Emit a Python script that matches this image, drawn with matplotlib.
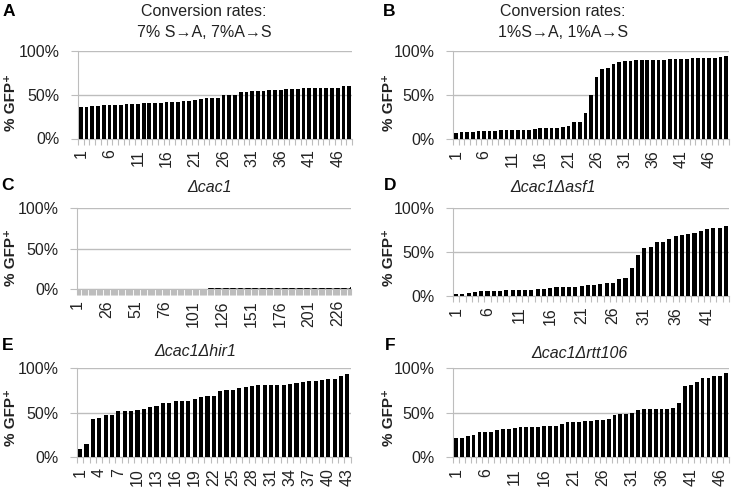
import numpy as np
import matplotlib.pyplot as plt
from matplotlib.ticker import FuncFormatter

plt.rcParams['font.family'] = ['Liberation Sans', 'DejaVu Sans']

W, H = 733, 488
grid_col = '#bdbdbd'
text_col = '#222222'

# % GFP+ per colony, sorted
rate7_values = [36, 36, 37, 37, 38, 38, 38, 38, 39, 39, 39, 40, 40, 41, 41, 42,
                42, 42, 43, 43, 44, 45, 46, 46, 46, 50, 50, 50, 52.5, 53.5, 54, 54,
                54.5, 55, 55, 55.5, 56, 56.5, 56.5, 57, 57, 57, 57.5, 58, 58, 58, 59.5, 60]
rate1_values = [7.5, 8.3, 8.7, 8.7, 9, 9.4, 9.8, 9.8, 10, 11, 11, 11, 11, 11, 11.7, 12.5,
                13, 13, 13, 14, 15, 19, 20, 30, 50, 70.6, 79, 81, 85, 86.8, 88, 88.7,
                89, 89.8, 90, 90, 90, 90, 90.5, 90.6, 91, 91, 91.3, 91.5, 92, 92, 92, 92.5, 94]
# cac1: long run of colonies, (value, count) runs
cac1_runs = [(0.0, 113), (1.5, 123), (2.5, 1)]
cac1_values = [v for v, n in cac1_runs for _ in range(n)]
asf1_values = [1.5, 2.3, 3.4, 4.2, 5, 5.3, 5.3, 5.7, 6, 6, 6.4, 6.8, 6.8, 7.5, 8, 9,
               9.5, 9.5, 9.5, 10, 11, 12, 12.5, 13, 14, 15, 18.6, 19.7, 32, 46, 54.5, 55,
               60.6, 60.6, 64, 67.4, 69, 70, 71, 73.5, 76, 76.5, 77.3, 79]
hir1_values = [9.4, 15, 43, 44, 47.6, 47.6, 51.7, 52.4, 52.4, 53.6, 54.3, 57, 57.7, 61, 61, 63,
               63.7, 63.7, 65.5, 67.4, 68.5, 69.3, 75, 76, 76, 78, 79.4, 80.5, 81, 81, 81, 81,
               81.6, 82.8, 83.5, 85, 86, 86, 87, 88, 88, 91.8, 93.3]
rtt106_values = [21.3, 22, 24, 24.7, 28, 28, 28.8, 30.7, 31.5, 31.5, 33, 33.7, 34.5, 34.5, 34.5, 34.8,
                 34.8, 35.6, 37.8, 39.3, 40, 40, 40.4, 41.2, 41.6, 42, 43, 47.6, 48.3, 49, 49.8, 53.6,
                 54.3, 54.3, 54.7, 54.7, 54.7, 55.4, 61, 80.5, 81.3, 84.3, 89.5, 89.5, 91, 91, 94.4]

titles = ['Conversion rates:\n7% S\u2192A, 7%A\u2192S',
          'Conversion rates:\n1%S\u2192A, 1%A\u2192S',
          '\u0394cac1', '\u0394cac1\u0394asf1', '\u0394cac1\u0394hir1', '\u0394cac1\u0394rtt106']
letters = ['A', 'B', 'C', 'D', 'E', 'F']
label_steps = [5, 5, 25, 5, 3, 5]


def px_rect(x0, x1, top, bottom):
    return [x0 / W, 1 - bottom / H, (x1 - x0) / W, (bottom - top) / H]


def draw_panel(fig, rect, values, step, edge_lw=0):
    ax = fig.add_axes(rect)
    x = np.arange(1, len(values) + 1)
    ax.bar(x, values, width=0.65, color='black', edgecolor='black', linewidth=edge_lw, zorder=3)
    ax.set_xlim(0.5, len(values) + 0.5)
    ax.set_ylim(0, 100)
    ax.set_yticks([0, 50, 100])
    ax.yaxis.set_major_formatter(FuncFormatter(lambda v, p: f'{v:.0f}%'))
    ax.yaxis.grid(True, color=grid_col, lw=1)
    ax.set_axisbelow(True)
    ticks = x[::step]
    ax.set_xticks(ticks)
    ax.set_xticklabels([str(t) for t in ticks], rotation=90)
    ax.set_xticks(np.arange(0.5, len(values) + 1), minor=True)
    ax.tick_params(axis='x', which='major', length=0, pad=8, labelsize=11.5, labelcolor=text_col)
    ax.tick_params(axis='x', which='minor', length=4, width=0.8, color=grid_col)
    ax.tick_params(axis='y', length=5, color=grid_col, pad=8, labelsize=11.5, labelcolor=text_col)
    for s in ['top', 'right']:
        ax.spines[s].set_visible(False)
    for s in ['left', 'bottom']:
        ax.spines[s].set_color(grid_col)
    return ax


fig = plt.figure(figsize=(W / 100, H / 100), dpi=100)

rects = [px_rect(78, 352, 50.7, 138.5), px_rect(453, 729, 50.7, 139.3),
         px_rect(77, 351, 208.3, 289), px_rect(453, 729, 207.7, 295.7),
         px_rect(77, 350.6, 368.3, 457.3), px_rect(453, 729, 368.3, 457.3)]
series = [rate7_values, rate1_values, cac1_values, asf1_values, hir1_values, rtt106_values]

for i, (rect, vals, step) in enumerate(zip(rects, series, label_steps)):
    # the cac1 panel has very thin bars, give them an outline so they read as a solid line
    draw_panel(fig, rect, vals, step, edge_lw=0.6 if i == 2 else 0)

# titles (pixel centre positions)
title_pos = [(204, 22), (563, 22), (210, 188), (553, 187), (195, 352), (579, 353)]
for i, (t, (tx, ty)) in enumerate(zip(titles, title_pos)):
    fig.text(tx / W, 1 - ty / H, t, ha='center', va='center', fontsize=11.5,
             color=text_col, style='normal' if i < 2 else 'italic', linespacing=1.45)

letter_pos = [(9, 11), (389, 11), (8, 186), (390, 186), (8, 346), (390, 346)]
for l, (lx, ly) in zip(letters, letter_pos):
    fig.text(lx / W, 1 - ly / H, l, ha='center', va='center', fontsize=12.5,
             fontweight='bold', color='black')

ylabel_pos = [(11, 102), (389, 102), (11, 258), (389, 258), (11, 418), (389, 418)]
for yx, yy in ylabel_pos:
    fig.text(yx / W, 1 - yy / H, '% GFP\u207a', ha='center', va='center', rotation=90,
             fontsize=11, fontweight='bold', color=text_col)

fig.savefig('out.png', dpi=100)
